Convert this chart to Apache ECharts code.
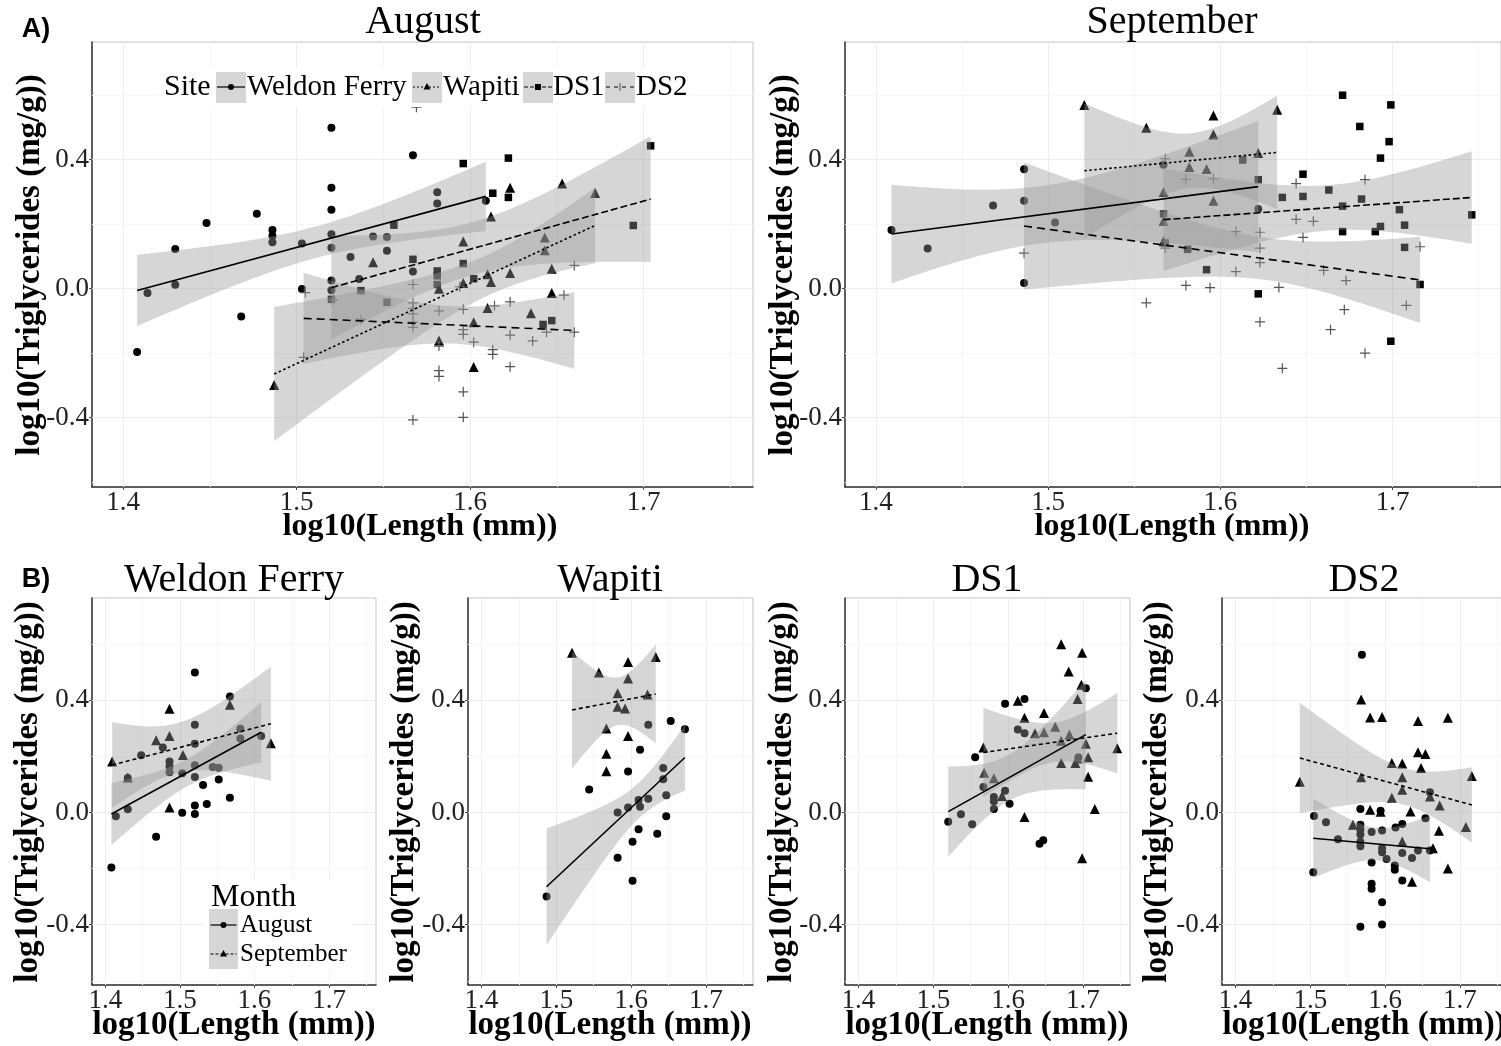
<!DOCTYPE html>
<html>
<head>
<meta charset="utf-8">
<script src="https://cdn.jsdelivr.net/npm/echarts@6/dist/echarts.min.js"></script>
<style>
  html, body { margin: 0; padding: 0; background: #fff; }
  #chart { width: 1501px; height: 1046px; }
</style>
</head>
<body>
<div id="chart"></div>
<script>
  // points: [log10(length), log10(triglycerides)]
  var wfAug = [[1.408,-0.196],[1.414,-0.013],[1.430,0.123],[1.430,0.012],[1.448,0.204],[1.468,-0.086],[1.477,0.232],
    [1.486,0.182],[1.486,0.164],[1.486,0.144],[1.503,0.140],[1.503,-0.001],[1.520,0.499],[1.520,0.313],[1.520,0.245],
    [1.520,0.169],[1.520,0.127],[1.520,0.025],[1.520,-0.005],[1.531,0.098],[1.536,0.030],[1.544,0.162],[1.552,0.160],
    [1.552,0.118],[1.567,0.414],[1.567,0.053],[1.581,0.299],[1.581,0.264],[1.609,0.273]];
  var wfSep = [[1.409,0.182],[1.430,0.125],[1.468,0.258],[1.486,0.370],[1.486,0.273],[1.504,0.205],[1.486,0.018],
    [1.567,0.384],[1.622,0.247]];
  var wapAug = [[1.623,0.313],[1.653,0.326],[1.672,0.297],[1.612,0.224],[1.596,0.146],[1.544,0.082],[1.643,0.159],
    [1.643,0.119],[1.647,0.062],[1.623,0.049],[1.610,0.045],[1.612,0.021],[1.596,0.018],[1.582,0.000],[1.647,-0.013],
    [1.610,-0.060],[1.635,-0.076],[1.602,-0.104],[1.582,-0.161],[1.602,-0.243],[1.487,-0.299]];
  var wapSep = [[1.521,0.570],[1.596,0.537],[1.633,0.555],[1.557,0.499],[1.596,0.478],[1.582,0.425],[1.622,0.421],
    [1.582,0.377],[1.592,0.371],[1.567,0.300],[1.596,0.273],[1.567,0.210],[1.567,0.147]];
  var ds1Aug = [[1.596,0.388],[1.622,0.405],[1.704,0.443],[1.613,0.296],[1.622,0.283],[1.556,0.197],[1.567,0.091],
    [1.596,0.078],[1.581,0.055],[1.581,0.040],[1.581,0.013],[1.602,0.031],[1.520,-0.033],[1.537,-0.006],[1.552,-0.042],
    [1.642,-0.111],[1.647,-0.099],[1.694,0.196]];
  var ds1Sep = [[1.671,0.600],[1.699,0.570],[1.681,0.503],[1.698,0.456],[1.693,0.405],[1.613,0.399],[1.622,0.338],
    [1.648,0.355],[1.636,0.283],[1.648,0.286],[1.663,0.306],[1.671,0.256],[1.682,0.278],[1.567,0.232],[1.704,0.245],
    [1.746,0.229],[1.671,0.177],[1.690,0.177],[1.693,0.193],[1.707,0.197],[1.568,0.142],[1.581,0.122],[1.592,0.059],
    [1.707,0.128],[1.622,-0.016],[1.716,0.013],[1.699,-0.163]];
  var ds2Aug = [[1.569,0.563],[1.567,0.013],[1.594,0.006],[1.505,-0.012],[1.521,-0.035],[1.567,-0.044],[1.567,-0.061],
    [1.567,-0.078],[1.582,-0.069],[1.596,-0.064],[1.614,-0.053],[1.623,-0.041],[1.654,-0.020],[1.537,-0.095],
    [1.567,-0.104],[1.567,-0.120],[1.596,-0.127],[1.596,-0.142],[1.602,-0.166],[1.623,-0.144],[1.636,-0.162],
    [1.644,-0.135],[1.660,-0.135],[1.582,-0.178],[1.613,-0.189],[1.613,-0.204],[1.623,-0.242],[1.504,-0.213],
    [1.582,-0.254],[1.582,-0.272],[1.596,-0.320],[1.567,-0.407],[1.596,-0.399],[1.660,0.072]];
  var ds2Sep = [[1.568,0.403],[1.580,0.339],[1.596,0.341],[1.644,0.326],[1.684,0.338],[1.644,0.215],[1.654,0.209],
    [1.609,0.177],[1.623,0.175],[1.648,0.159],[1.568,0.126],[1.623,0.126],[1.716,0.130],[1.486,0.110],[1.623,0.081],
    [1.609,0.053],[1.660,0.057],[1.673,0.025],[1.580,0.010],[1.594,0.003],[1.634,0.004],[1.557,-0.044],[1.672,-0.065],
    [1.708,-0.052],[1.623,-0.103],[1.664,-0.127],[1.684,-0.200],[1.636,-0.247]];

  // axis ticks and grid lines
  var xTicks = [1.4, 1.5, 1.6, 1.7];
  var yTicks = [-0.4, 0.0, 0.4];
  var xMinor = [1.45, 1.55, 1.65, 1.75];
  var yMinor = [-0.6, -0.2, 0.2, 0.6];
  var sites = ['Weldon Ferry', 'Wapiti', 'DS1', 'DS2'];
  var months = ['August', 'September'];

  var serif = '"Liberation Serif", "Times New Roman", serif';
  var ribbonFill = 'rgba(153,153,153,0.4)';
  var plusPath = 'path://M4.4,0h1.2v10h-1.2z M0,4.4h10v1.2h-10z';
  var symbols = {
    circle: { symbol: 'circle', size: 8 },
    triangle: { symbol: 'triangle', size: 10 },
    square: { symbol: 'rect', size: 7.5 },
    plus: { symbol: plusPath, size: 10 }
  };
  var dashes = { solid: 'solid', dot: [2.5, 2.5], dash: [7, 3], longdash: [8, 5], month: [4, 3] };

  // t quantile (97.5%) by Cornish-Fisher expansion
  function tq(df) {
    var z = 1.959964;
    var z3 = Math.pow(z, 3), z5 = Math.pow(z, 5), z7 = Math.pow(z, 7), z9 = Math.pow(z, 9);
    return z + (z3 + z) / (4 * df) + (5 * z5 + 16 * z3 + 3 * z) / (96 * df * df) +
      (3 * z7 + 19 * z5 + 17 * z3 - 15 * z) / (384 * Math.pow(df, 3)) +
      (79 * z9 + 776 * z7 + 1482 * z5 - 1920 * z3 - 945 * z) / (92160 * Math.pow(df, 4));
  }

  // linear fit with 95% confidence band, like geom_smooth(method = "lm")
  function lmFit(pts) {
    var n = pts.length, mx = 0, my = 0;
    pts.forEach(function (p) { mx += p[0]; my += p[1]; });
    mx /= n; my /= n;
    var sxx = 0, sxy = 0;
    pts.forEach(function (p) { sxx += (p[0] - mx) * (p[0] - mx); sxy += (p[0] - mx) * (p[1] - my); });
    var b = sxy / sxx, a = my - b * mx;
    var sse = 0;
    pts.forEach(function (p) { var r = p[1] - (a + b * p[0]); sse += r * r; });
    var s = Math.sqrt(sse / (n - 2)), t = tq(n - 2);
    var xs = pts.map(function (p) { return p[0]; });
    var x0 = Math.min.apply(null, xs), x1 = Math.max.apply(null, xs);
    var band = [];
    for (var i = 0; i <= 60; i++) {
      var x = x0 + (x1 - x0) * i / 60;
      var f = a + b * x;
      var se = s * Math.sqrt(1 / n + (x - mx) * (x - mx) / sxx);
      band.push([x, f, f - t * se, f + t * se]);
    }
    return { line: [[x0, a + b * x0], [x1, a + b * x1]], band: band };
  }

  var panels = [
    { grid: { left: 92, top: 42, width: 661, height: 445 }, font: 27, groups: [
      { pts: wfAug, shape: 'circle', dash: 'solid' }, { pts: wapAug, shape: 'triangle', dash: 'dot' },
      { pts: ds1Aug, shape: 'square', dash: 'dash' }, { pts: ds2Aug, shape: 'plus', dash: 'longdash' }] },
    { grid: { left: 845, top: 42, width: 656, height: 445 }, font: 27, groups: [
      { pts: wfSep, shape: 'circle', dash: 'solid' }, { pts: wapSep, shape: 'triangle', dash: 'dot' },
      { pts: ds1Sep, shape: 'square', dash: 'dash' }, { pts: ds2Sep, shape: 'plus', dash: 'longdash' }] },
    { grid: { left: 92, top: 598, width: 284, height: 387 }, font: 27, groups: [
      { pts: wfAug, shape: 'circle', dash: 'solid' }, { pts: wfSep, shape: 'triangle', dash: 'month' }] },
    { grid: { left: 468, top: 598, width: 285, height: 387 }, font: 27, groups: [
      { pts: wapAug, shape: 'circle', dash: 'solid' }, { pts: wapSep, shape: 'triangle', dash: 'month' }] },
    { grid: { left: 845, top: 598, width: 285, height: 387 }, font: 27, groups: [
      { pts: ds1Aug, shape: 'circle', dash: 'solid' }, { pts: ds1Sep, shape: 'triangle', dash: 'month' }] },
    { grid: { left: 1222, top: 598, width: 285, height: 387 }, font: 27, groups: [
      { pts: ds2Aug, shape: 'circle', dash: 'solid' }, { pts: ds2Sep, shape: 'triangle', dash: 'month' }] }
  ];

  var grids = [], xAxes = [], yAxes = [], series = [];

  function gridLines() {
    var d = [];
    xTicks.forEach(function (v) { d.push({ xAxis: v, lineStyle: { color: '#ededed' } }); });
    xMinor.forEach(function (v) { d.push({ xAxis: v, lineStyle: { color: '#f6f6f6' } }); });
    yTicks.forEach(function (v) { d.push({ yAxis: v, lineStyle: { color: '#ededed' } }); });
    yMinor.forEach(function (v) { d.push({ yAxis: v, lineStyle: { color: '#f6f6f6' } }); });
    return d;
  }

  panels.forEach(function (p, gi) {
    grids.push(Object.assign({ show: true, borderColor: '#c4c4c4', borderWidth: 1, backgroundColor: '#fff',
      containLabel: false, outerBoundsMode: 'none' }, p.grid));
    var lbl = { fontFamily: serif, fontSize: p.font, color: '#222' };
    xAxes.push({
      gridIndex: gi, type: 'value', min: 1.382, max: 1.763,
      axisLine: { show: true, onZero: false, lineStyle: { color: '#333', width: 1.5 } },
      axisTick: { show: true, length: 3, customValues: xTicks, lineStyle: { color: '#444' } },
      axisLabel: Object.assign({ customValues: xTicks, margin: 2, formatter: function (v) { return (+v).toFixed(1); } }, lbl),
      splitLine: { show: false }
    });
    yAxes.push({
      gridIndex: gi, type: 'value', min: -0.615, max: 0.765,
      axisLine: { show: true, onZero: false, lineStyle: { color: '#333', width: 1.5 } },
      axisTick: { show: true, length: 3, customValues: yTicks, lineStyle: { color: '#444' } },
      axisLabel: Object.assign({ customValues: yTicks, margin: 3, formatter: function (v) { return (+v).toFixed(1); } }, lbl),
      splitLine: { show: false }
    });

    p.groups.forEach(function (g, k) {
      var sym = symbols[g.shape];
      var fit = lmFit(g.pts);
      var sc = {
        type: 'scatter', xAxisIndex: gi, yAxisIndex: gi, data: g.pts, z: 2,
        symbol: sym.symbol, symbolSize: sym.size, silent: true,
        itemStyle: { color: g.shape === 'plus' ? '#555' : '#000', opacity: 1 }
      };
      if (k === 0) {
        sc.markLine = { silent: true, z: 1, symbol: ['none', 'none'], label: { show: false }, animation: false,
          lineStyle: { type: 'solid', width: 1 }, emphasis: { disabled: true }, data: gridLines() };
      }
      series.push(sc);
      series.push({
        type: 'custom', xAxisIndex: gi, yAxisIndex: gi, z: 3, silent: true,
        data: [fit.line[0]],
        renderItem: (function (band) {
          return function (params, api) {
            var pts = band.map(function (b) { return api.coord([b[0], b[3]]); });
            for (var i = band.length - 1; i >= 0; i--) pts.push(api.coord([band[i][0], band[i][2]]));
            return { type: 'polygon', shape: { points: pts }, style: { fill: ribbonFill } };
          };
        })(fit.band)
      });
      series.push({
        type: 'line', xAxisIndex: gi, yAxisIndex: gi, z: 4, silent: true, data: fit.line,
        showSymbol: false, symbol: 'none',
        lineStyle: { color: '#000', width: 1.6, type: dashes[g.dash] }
      });
    });
  });

  // titles, axis names and legends
  var gfx = [];
  function txt(text, x, y, font, opt) {
    gfx.push(Object.assign({ type: 'text', x: x, y: y, silent: true, z: 10,
      style: { text: text, font: font, fill: '#000', align: 'center', verticalAlign: 'middle' } }, opt || {}));
  }
  function ltxt(text, x, y, font) {
    gfx.push({ type: 'text', x: x, y: y, silent: true, z: 12,
      style: { text: text, font: font, fill: '#000', align: 'left', verticalAlign: 'middle' } });
  }
  txt('A)', 36, 30, 'bold 27px "Liberation Sans", Arial, sans-serif');
  txt('B)', 36, 580, 'bold 27px "Liberation Sans", Arial, sans-serif');
  txt('August', 423, 22, '40px ' + serif);
  txt('September', 1172, 22, '40px ' + serif);
  [['Weldon Ferry', 234], ['Wapiti', 610], ['DS1', 987], ['DS2', 1364]].forEach(function (t) {
    txt(t[0], t[1], 580, '40px ' + serif);
  });
  var xName = 'log10(Length (mm))', yName = 'log10(Triglycerides (mg/g))';
  txt(xName, 420, 527, 'bold 32px ' + serif);
  txt(xName, 1172, 527, 'bold 32px ' + serif);
  [234, 610, 987, 1364].forEach(function (x) { txt(xName, x, 1025, 'bold 33px ' + serif); });
  txt(yName, 30, 265, 'bold 33px ' + serif, { rotation: Math.PI / 2 });
  txt(yName, 783, 265, 'bold 33px ' + serif, { rotation: Math.PI / 2 });
  [28, 404, 782, 1157].forEach(function (x) { txt(yName, x, 792, 'bold 33px ' + serif, { rotation: Math.PI / 2 }); });

  function keyGlyph(cx, cy, shape, dash, w) {
    gfx.push({ type: 'line', silent: true, z: 12, shape: { x1: cx - w / 2, y1: cy, x2: cx + w / 2, y2: cy },
      style: { stroke: '#000', lineWidth: 1.2, lineDash: dash === 'solid' ? null : dash } });
    if (shape === 'circle') {
      gfx.push({ type: 'circle', silent: true, z: 12, shape: { cx: cx, cy: cy, r: 3 }, style: { fill: '#000' } });
    } else if (shape === 'triangle') {
      gfx.push({ type: 'polygon', silent: true, z: 12, shape: { points: [[cx, cy - 4], [cx - 3.5, cy + 2.5], [cx + 3.5, cy + 2.5]] }, style: { fill: '#000' } });
    } else if (shape === 'square') {
      gfx.push({ type: 'rect', silent: true, z: 12, shape: { x: cx - 3, y: cy - 3, width: 6, height: 6 }, style: { fill: '#000' } });
    } else {
      gfx.push({ type: 'line', silent: true, z: 12, shape: { x1: cx, y1: cy - 4, x2: cx, y2: cy + 4 }, style: { stroke: '#555', lineWidth: 1 } });
    }
  }

  // site legend inside the August panel (white legend background like ggplot)
  gfx.push({ type: 'rect', silent: true, z: 11, shape: { x: 158, y: 68, width: 532, height: 39 }, style: { fill: '#fff' } });
  ltxt('Site', 164, 87, '30px ' + serif);
  var siteKeys = [[216, 247, 'circle', 'solid'], [412, 443, 'triangle', [2, 2]], [523, 553, 'square', [4, 2]], [605, 636, 'plus', [4, 4]]];
  siteKeys.forEach(function (k, i) {
    gfx.push({ type: 'rect', silent: true, z: 11, shape: { x: k[0], y: 72, width: 30, height: 31 }, style: { fill: '#d6d6d6' } });
    keyGlyph(k[0] + 15, 87, k[2], k[3], 28);
    ltxt(sites[i], k[1], 87, '29px ' + serif);
  });

  // month legend inside the Weldon Ferry panel
  gfx.push({ type: 'rect', silent: true, z: 11, shape: { x: 205, y: 880, width: 148, height: 92 }, style: { fill: '#fff' } });
  ltxt('Month', 211, 898, '32px ' + serif);
  gfx.push({ type: 'rect', silent: true, z: 11, shape: { x: 209, y: 909, width: 29, height: 60 }, style: { fill: '#d6d6d6' } });
  keyGlyph(223.5, 925, 'circle', 'solid', 26);
  keyGlyph(223.5, 954, 'triangle', [3, 2], 26);
  ltxt(months[0], 240, 925, '25px ' + serif);
  ltxt(months[1], 240, 954, '25px ' + serif);

  var chart = echarts.init(document.getElementById('chart'));
  chart.setOption({
    animation: false,
    backgroundColor: '#fff',
    grid: grids,
    xAxis: xAxes,
    yAxis: yAxes,
    series: series,
    graphic: gfx
  });
</script>
</body>
</html>
